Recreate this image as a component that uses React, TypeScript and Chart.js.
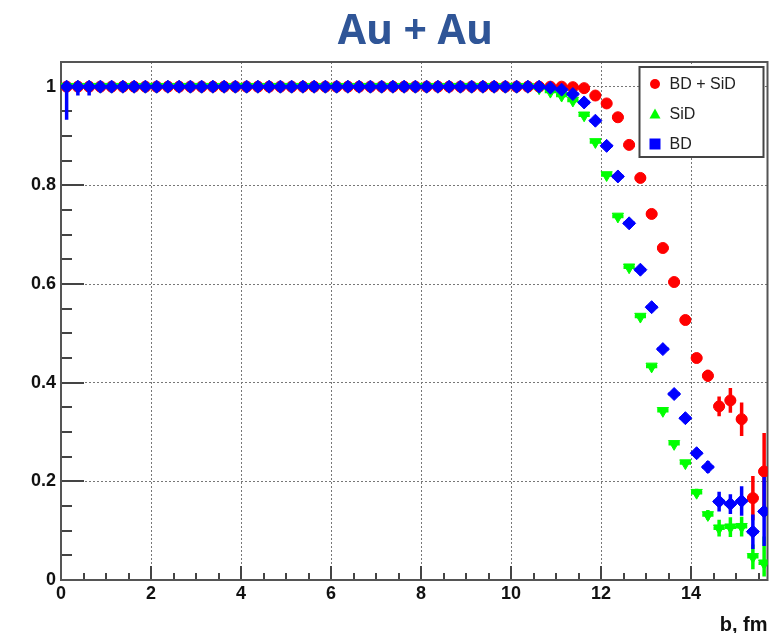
import React, { useEffect, useRef } from "react";
import { Chart, registerables } from "chart.js";

Chart.register(...registerables);

const TITLE = "Au + Au";
const X_TITLE = "b, fm";
const SERIES_LABELS = ["BD + SiD", "SiD", "BD"];
const SERIES_COLORS = ["#ff0000", "#00ff00", "#0000ff"];

const X_TICKS = [0, 2, 4, 6, 8, 10, 12, 14];
const Y_TICKS = [0, 0.2, 0.4, 0.6, 0.8, 1];
const X_MIN = 0;
const X_MAX = 15.7;
const Y_MIN = 0;
const Y_MAX = 1.05;
const X_MINOR_STEP = 0.5;
const Y_MINOR_STEP = 0.05;
const BIN_HALF_WIDTH = 0.125;

// impact parameter bin centres, fm
const B_FM = [
  0.125, 0.375, 0.625, 0.875, 1.125, 1.375, 1.625, 1.875, 2.125, 2.375, 2.625, 2.875,
  3.125, 3.375, 3.625, 3.875, 4.125, 4.375, 4.625, 4.875, 5.125, 5.375, 5.625, 5.875,
  6.125, 6.375, 6.625, 6.875, 7.125, 7.375, 7.625, 7.875, 8.125, 8.375, 8.625, 8.875,
  9.125, 9.375, 9.625, 9.875, 10.125, 10.375, 10.625, 10.875, 11.125, 11.375, 11.625, 11.875,
  12.125, 12.375, 12.625, 12.875, 13.125, 13.375, 13.625, 13.875, 14.125, 14.375, 14.625, 14.875,
  15.125, 15.375, 15.625,
];

// BD + SiD efficiency
const EFF_BD_SID = [
  1, 1, 1, 1, 1, 1, 1, 1, 1, 1, 1, 1, 1, 1, 1,
  1, 1, 1, 1, 1, 1, 1, 1, 1, 1, 1, 1, 1, 1, 1,
  1, 1, 1, 1, 1, 1, 1, 1, 1, 1, 1, 1, 1, 1, 1,
  0.999, 0.997, 0.982, 0.966, 0.938, 0.882, 0.815, 0.742, 0.673, 0.604, 0.527, 0.45, 0.414, 0.352, 0.364,
  0.326, 0.166, 0.22,
];
const ERR_BD_SID_LO = [
  0, 0, 0, 0, 0, 0, 0, 0, 0, 0, 0, 0, 0, 0, 0,
  0, 0, 0, 0, 0, 0, 0, 0, 0, 0, 0, 0, 0, 0, 0,
  0, 0, 0, 0, 0, 0, 0, 0, 0, 0, 0, 0, 0, 0, 0,
  0, 0, 0, 0, 0, 0, 0, 0, 0, 0, 0.008, 0.01, 0.012, 0.02, 0.025,
  0.034, 0.045, 0.08,
];
const ERR_BD_SID_HI = [
  0, 0, 0, 0, 0, 0, 0, 0, 0, 0, 0, 0, 0, 0, 0,
  0, 0, 0, 0, 0, 0, 0, 0, 0, 0, 0, 0, 0, 0, 0,
  0, 0, 0, 0, 0, 0, 0, 0, 0, 0, 0, 0, 0, 0, 0,
  0, 0, 0, 0, 0, 0, 0, 0, 0, 0, 0.008, 0.01, 0.012, 0.02, 0.025,
  0.034, 0.045, 0.078,
];

// SiD efficiency
const EFF_SID = [
  1, 1, 1, 1, 1, 1, 1, 1, 1, 1, 1, 1, 1, 1, 1,
  1, 1, 1, 1, 1, 1, 1, 1, 1, 1, 1, 1, 1, 1, 1,
  1, 1, 1, 1, 1, 1, 1, 1, 1, 1, 1, 1, 0.997, 0.99, 0.982,
  0.972, 0.942, 0.888, 0.821, 0.737, 0.634, 0.534, 0.433, 0.343, 0.276, 0.237, 0.177, 0.132, 0.105, 0.107,
  0.108, 0.047, 0.034,
];
const ERR_SID_LO = [
  0, 0, 0, 0, 0, 0, 0, 0, 0, 0, 0, 0, 0, 0, 0,
  0, 0, 0, 0, 0, 0, 0, 0, 0, 0, 0, 0, 0, 0, 0,
  0, 0, 0, 0, 0, 0, 0, 0, 0, 0, 0, 0, 0, 0, 0,
  0, 0, 0, 0, 0, 0, 0, 0, 0, 0, 0, 0.008, 0.01, 0.017, 0.02,
  0.02, 0.025, 0.027,
];
const ERR_SID_HI = [
  0, 0, 0, 0, 0, 0, 0, 0, 0, 0, 0, 0, 0, 0, 0,
  0, 0, 0, 0, 0, 0, 0, 0, 0, 0, 0, 0, 0, 0, 0,
  0, 0, 0, 0, 0, 0, 0, 0, 0, 0, 0, 0, 0, 0, 0,
  0, 0, 0, 0, 0, 0, 0, 0, 0, 0, 0, 0.008, 0.01, 0.017, 0.02,
  0.02, 0.025, 0.054,
];

// BD efficiency
const EFF_BD = [
  1, 1, 1, 1, 1, 1, 1, 1, 1, 1, 1, 1, 1, 1, 1,
  1, 1, 1, 1, 1, 1, 1, 1, 1, 1, 1, 1, 1, 1, 1,
  1, 1, 1, 1, 1, 1, 1, 1, 1, 1, 1, 1, 1, 0.998, 0.994,
  0.985, 0.968, 0.931, 0.88, 0.818, 0.723, 0.629, 0.553, 0.468, 0.377, 0.328, 0.257, 0.229, 0.159, 0.154,
  0.16, 0.098, 0.139,
];
const ERR_BD_LO = [
  0.067, 0.018, 0.018, 0, 0, 0, 0, 0, 0, 0, 0, 0, 0, 0, 0,
  0, 0, 0, 0, 0, 0, 0, 0, 0, 0, 0, 0, 0, 0, 0,
  0, 0, 0, 0, 0, 0, 0, 0, 0, 0, 0, 0, 0, 0, 0,
  0, 0, 0, 0, 0, 0, 0, 0, 0, 0, 0.008, 0.01, 0.012, 0.02, 0.02,
  0.03, 0.035, 0.07,
];
const ERR_BD_HI = [
  0, 0, 0, 0, 0, 0, 0, 0, 0, 0, 0, 0, 0, 0, 0,
  0, 0, 0, 0, 0, 0, 0, 0, 0, 0, 0, 0, 0, 0, 0,
  0, 0, 0, 0, 0, 0, 0, 0, 0, 0, 0, 0, 0, 0, 0,
  0, 0, 0, 0, 0, 0, 0, 0, 0, 0, 0.008, 0.01, 0.012, 0.02, 0.02,
  0.03, 0.035, 0.07,
];

const AXIS_FONT = "'Liberation Sans', Arial, sans-serif";
const fmt = (v: number) => String(Math.round(v * 100) / 100);

const errorBarPlugin = {
  id: "errorBars",
  beforeDatasetDraw(chart: any, args: any) {
    const ds = chart.data.datasets[args.index];
    const xs = chart.scales.x;
    const ys = chart.scales.y;
    const ctx = chart.ctx;
    const area = chart.chartArea;
    ctx.save();
    ctx.beginPath();
    ctx.rect(area.left, area.top, area.right - area.left, area.bottom - area.top);
    ctx.clip();
    ctx.strokeStyle = ds.borderColor;
    ctx.lineWidth = 3.5;
    ctx.lineCap = "butt";
    ds.data.forEach((p: any, i: number) => {
      const px = xs.getPixelForValue(p.x);
      const py = ys.getPixelForValue(p.y);
      ctx.beginPath();
      ctx.moveTo(xs.getPixelForValue(p.x - BIN_HALF_WIDTH), py);
      ctx.lineTo(xs.getPixelForValue(p.x + BIN_HALF_WIDTH), py);
      const lo = ds.errLo[i];
      const hi = ds.errHi[i];
      if (lo > 0 || hi > 0) {
        ctx.moveTo(px, ys.getPixelForValue(p.y - lo));
        ctx.lineTo(px, ys.getPixelForValue(p.y + hi));
      }
      ctx.stroke();
    });
    ctx.restore();
  },
};

const framePlugin = {
  id: "rootFrame",
  beforeDatasetsDraw(chart: any) {
    const ctx = chart.ctx;
    const xs = chart.scales.x;
    const ys = chart.scales.y;
    const { left, right, top, bottom } = chart.chartArea;
    ctx.save();
    ctx.strokeStyle = "#444";
    ctx.lineWidth = 2;
    ctx.beginPath();
    // y ticks (inside)
    for (let v = Y_MIN; v <= Y_MAX + 1e-9; v += Y_MINOR_STEP) {
      const isMajor = Y_TICKS.some((t) => Math.abs(t - v) < 1e-6);
      const py = Math.round(ys.getPixelForValue(v));
      ctx.moveTo(left, py);
      ctx.lineTo(left + (isMajor ? 23 : 11), py);
    }
    // x ticks (inside)
    for (let v = X_MIN; v <= X_MAX + 1e-9; v += X_MINOR_STEP) {
      const isMajor = X_TICKS.some((t) => Math.abs(t - v) < 1e-6);
      const px = Math.round(xs.getPixelForValue(v));
      ctx.moveTo(px, bottom);
      ctx.lineTo(px, bottom - (isMajor ? 14 : 7));
    }
    ctx.stroke();
    ctx.strokeStyle = "#555";
    ctx.lineWidth = 2;
    ctx.strokeRect(left, top, right - left, bottom - top);
    ctx.restore();
  },
  afterDraw(chart: any) {
    const ctx = chart.ctx;
    const { left, right, top, bottom } = chart.chartArea;
    ctx.save();
    // title
    ctx.fillStyle = "#2f5597";
    ctx.font = "bold 41px 'Open Sans', 'Liberation Sans', sans-serif";
    ctx.textAlign = "center";
    ctx.textBaseline = "middle";
    ctx.fillText(TITLE, (left + right) / 2 + 1, 32);
    // x axis title
    ctx.fillStyle = "#111";
    ctx.font = `bold 20px ${AXIS_FONT}`;
    ctx.textAlign = "right";
    ctx.textBaseline = "alphabetic";
    ctx.fillText(X_TITLE, right, bottom + 51);
    // legend box
    const bx = right - 128;
    const by = top + 5;
    const bw = 124;
    const bh = 90;
    ctx.fillStyle = "#fff";
    ctx.fillRect(bx, by, bw, bh);
    ctx.strokeStyle = "#444";
    ctx.lineWidth = 2;
    ctx.strokeRect(bx, by, bw, bh);
    ctx.font = `16px ${AXIS_FONT}`;
    ctx.textAlign = "left";
    ctx.textBaseline = "middle";
    SERIES_LABELS.forEach((label, i) => {
      const cy = by + 17 + i * 30;
      const cx = bx + 15.5;
      ctx.fillStyle = SERIES_COLORS[i];
      ctx.beginPath();
      if (i === 0) {
        ctx.arc(cx, cy, 5, 0, Math.PI * 2);
      } else if (i === 1) {
        ctx.moveTo(cx, cy - 5.5);
        ctx.lineTo(cx + 5.5, cy + 4.5);
        ctx.lineTo(cx - 5.5, cy + 4.5);
        ctx.closePath();
      } else {
        ctx.rect(cx - 5.5, cy - 5.5, 11, 11);
      }
      ctx.fill();
      ctx.fillStyle = "#222";
      ctx.fillText(label, bx + 30, cy + 1);
    });
    ctx.restore();
  },
};

function toPoints(ys: number[]) {
  return B_FM.map((x, i) => ({ x, y: ys[i] }));
}

export default function App() {
  const ref = useRef<HTMLCanvasElement | null>(null);

  useEffect(() => {
    if (!ref.current) return;
    const tickFont = { family: AXIS_FONT, size: 18, weight: "bold" };
    const chart = new Chart(ref.current, {
      type: "scatter",
      data: {
        datasets: [
          {
            label: SERIES_LABELS[0],
            data: toPoints(EFF_BD_SID),
            errLo: ERR_BD_SID_LO,
            errHi: ERR_BD_SID_HI,
            order: 3,
            backgroundColor: SERIES_COLORS[0],
            borderColor: SERIES_COLORS[0],
            pointStyle: "circle",
            pointRadius: 5.5,
            borderWidth: 1,
          },
          {
            label: SERIES_LABELS[1],
            data: toPoints(EFF_SID),
            errLo: ERR_SID_LO,
            errHi: ERR_SID_HI,
            order: 2,
            backgroundColor: SERIES_COLORS[1],
            borderColor: SERIES_COLORS[1],
            pointStyle: "triangle",
            rotation: 180,
            pointRadius: 6.5,
            borderWidth: 1,
          },
          {
            label: SERIES_LABELS[2],
            data: toPoints(EFF_BD),
            errLo: ERR_BD_LO,
            errHi: ERR_BD_HI,
            order: 1,
            backgroundColor: SERIES_COLORS[2],
            borderColor: SERIES_COLORS[2],
            pointStyle: "rectRot",
            pointRadius: 6.5,
            borderWidth: 1,
          },
        ] as any,
      },
      options: {
        responsive: false,
        animation: false,
        devicePixelRatio: 1,
        events: [],
        layout: { padding: { top: 62, right: 3, left: 0, bottom: 0 } },
        plugins: {
          legend: { display: false },
          tooltip: { enabled: false },
          title: { display: false },
        },
        scales: {
          x: {
            type: "linear",
            min: X_MIN,
            max: X_MAX,
            afterBuildTicks: (s: any) => {
              s.ticks = X_TICKS.map((v) => ({ value: v }));
            },
            afterFit: (s: any) => {
              s.height = 53;
              s.paddingLeft = 0;
              s.paddingRight = 0;
            },
            ticks: {
              font: tickFont,
              color: "#111",
              padding: 3,
              maxRotation: 0,
              autoSkip: false,
              callback: (v: any) => fmt(Number(v)),
            },
            grid: { color: "#777", lineWidth: 1, drawTicks: false },
            border: { display: false, dash: [2, 2] },
          },
          y: {
            type: "linear",
            min: Y_MIN,
            max: Y_MAX,
            afterBuildTicks: (s: any) => {
              s.ticks = Y_TICKS.map((v) => ({ value: v }));
            },
            afterFit: (s: any) => {
              s.width = 61;
            },
            ticks: {
              font: tickFont,
              color: "#111",
              padding: 5,
              autoSkip: false,
              callback: (v: any) => fmt(Number(v)),
            },
            grid: { color: "#777", lineWidth: 1, drawTicks: false },
            border: { display: false, dash: [2, 2] },
          },
        },
      } as any,
      plugins: [errorBarPlugin, framePlugin],
    });
    return () => chart.destroy();
  }, []);

  return (
    <div
      style={{
        position: "fixed",
        left: 0,
        top: 0,
        width: 775,
        height: 633,
        background: "#fff",
      }}
    >
      <canvas ref={ref} width={775} height={633} style={{ display: "block", width: 775, height: 633 }} />
    </div>
  );
}
